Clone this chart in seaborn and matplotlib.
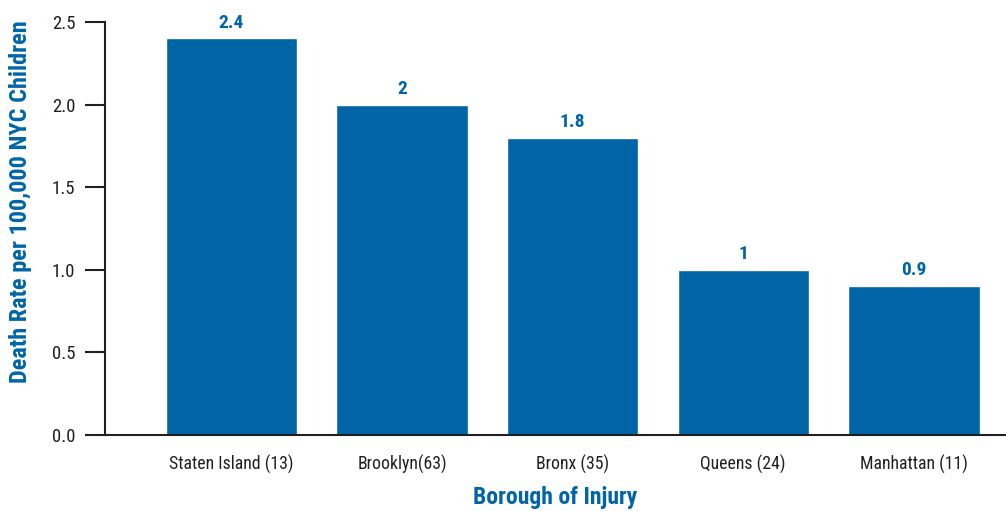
import matplotlib
matplotlib.use("Agg")
import matplotlib.pyplot as plt
from matplotlib import font_manager as fm
import seaborn as sns
import pandas as pd

# --- DATA ---
boroughs = ["Staten Island (13)", "Brooklyn(63)", "Bronx (35)", "Queens (24)", "Manhattan (11)"]
death_rates = [2.4, 2.0, 1.8, 1.0, 0.9]
y_ticks = [0.0, 0.5, 1.0, 1.5, 2.0, 2.5]

BLUE = "#0065A6"
DARK = "#231F20"

sns.set_style("white")

# pick a condensed sans if one is around
installed = {f.name for f in fm.fontManager.ttflist}
candidates = ["Roboto Condensed", "Liberation Sans Narrow", "Arial Narrow",
              "Archivo Narrow", "PT Sans Narrow", "IBM Plex Sans Condensed"]
narrow = [c for c in candidates if c in installed][:1]
plt.rcParams["font.family"] = narrow + ["DejaVu Sans"]

df = pd.DataFrame({"borough": boroughs, "rate": death_rates})

fig = plt.figure(figsize=(10.06, 5.11), dpi=100)
ax = fig.add_axes([0.1044, 0.1487, 0.8956, 0.8083])

sns.barplot(data=df, x="borough", y="rate", color=BLUE, saturation=1, width=0.77, ax=ax)
ax.bar_label(ax.containers[0], fmt="%g", padding=5, color=BLUE,
             fontsize=14, fontweight="bold")

ax.set_ylim(0, 2.5)
ax.set_xlim(-0.74, 4.54)
ax.set_yticks(y_ticks)
ax.set_yticklabels([f"{t:.1f}" for t in y_ticks])

sns.despine(ax=ax, top=True, right=True)
for side in ["left", "bottom"]:
    ax.spines[side].set_linewidth(1.5)
    ax.spines[side].set_color(DARK)

ax.tick_params(axis="y", length=14.4, width=1.5, color=DARK, labelsize=13.5,
               labelcolor=DARK, pad=7, left=True)
ax.tick_params(axis="x", length=0, labelsize=12.8, labelcolor=DARK, pad=14)

ax.set_ylabel("Death Rate per 100,000 NYC Children", color=BLUE, fontsize=17.5,
              fontweight="bold")
ax.set_xlabel("Borough of Injury", color=BLUE, fontsize=17, fontweight="bold",
              labelpad=9)
ax.yaxis.set_label_coords(-0.081, 0.564)

fig.savefig("out.png", dpi=100)
